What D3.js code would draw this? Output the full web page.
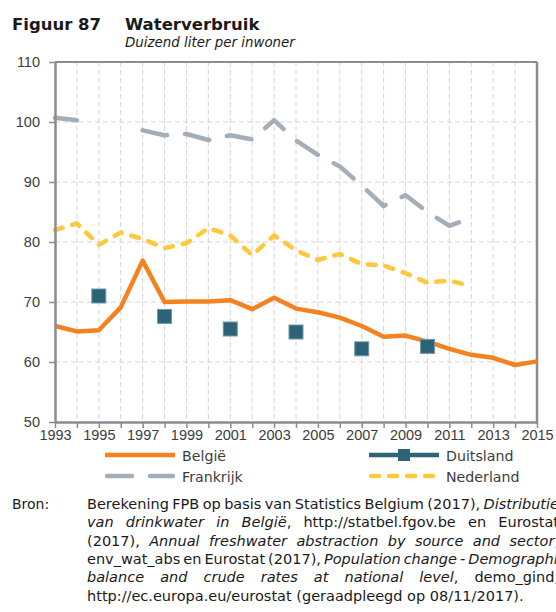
<!DOCTYPE html>
<html>
<head>
<meta charset="utf-8">
<script src="https://cdn.jsdelivr.net/npm/d3@7"></script>
<style>
  html, body { margin: 0; padding: 0; background: #fff; }
  svg { display: block; }
</style>
</head>
<body>
<svg id="chart" width="556" height="612"></svg>
<script>
// Water consumption, thousand litres per inhabitant
const years = d3.range(1993, 2016);
const belgie = [66.0, 65.1, 65.3, 69.1, 76.9, 70.0, 70.1, 70.1, 70.3, 68.8, 70.7, 68.9,
                68.3, 67.4, 66.0, 64.2, 64.4, 63.4, 62.2, 61.2, 60.7, 59.5, 60.1];
const duitsland = [null, null, 71.0, null, null, 67.6, null, null, 65.5, null, null, 65.0,
                   null, null, 62.2, null, null, 62.6, null, null, null, null, null];
const frankrijk = [100.7, 100.3, null, null, 98.6, 97.8, 98.0, 97.0, 97.8, 97.1, 100.3, 96.9,
                   94.5, 92.6, 89.4, 86.0, 87.8, 85.0, 82.7, 84.0, null, null, null];
const nederland = [82.0, 83.1, 79.5, 81.6, 80.5, 79.0, 79.8, 82.3, 81.1, 77.8, 81.1, 78.6,
                   77.0, 78.0, 76.3, 76.1, 74.8, 73.2, 73.6, 72.6, null, null, null];
const yTicks = [50, 60, 70, 80, 90, 100, 110];
const xLabelYears = d3.range(1993, 2016, 2);

const figureLabel = "Figuur 87";
const title = "Waterverbruik";
const subtitle = "Duizend liter per inwoner";
const legendNames = ["België", "Duitsland", "Frankrijk", "Nederland"];

// Source note: each line is a list of [text, italic] pieces
const sourceLabel = "Bron:";
const sourceLines = [
  [["Berekening FPB op basis van Statistics Belgium (2017), ", false], ["Distributie", true]],
  [["van drinkwater in België", true], [", http://statbel.fgov.be en Eurostat", false]],
  [["(2017), ", false], ["Annual freshwater abstraction by source and sector", true], [",", false]],
  [["env_wat_abs en Eurostat (2017), ", false], ["Population change - Demographic", true]],
  [["balance and crude rates at national level", true], [", demo_gind,", false]],
  [["http://ec.europa.eu/eurostat (geraadpleegd op 08/11/2017).", false]]
];

const C = {
  belgie: "#F58220",
  duitsland: "#2C6379",
  frankrijk: "#A4AEB9",
  nederland: "#FFC93C",
  axis: "#8C8C8C",
  grid: "#D5D5D5",
  text: "#3C3C3C"
};

const svg = d3.select("#chart");
const x = d3.scaleLinear().domain([1993, 2015]).range([55, 537]);
const y = d3.scaleLinear().domain([50, 110]).range([422, 62]);

const tickFont = "'Liberation Sans', Arial, sans-serif";
const mainFont = "'DejaVu Sans', Verdana, sans-serif";

// Titles
svg.append("text").attr("x", 12).attr("y", 30)
  .attr("font-family", mainFont).attr("font-weight", "bold").attr("font-size", 16.5)
  .attr("fill", "#1a1a1a").text(figureLabel);
svg.append("text").attr("x", 125).attr("y", 30)
  .attr("font-family", mainFont).attr("font-weight", "bold").attr("font-size", 16.5)
  .attr("fill", "#1a1a1a").text(title);
svg.append("text").attr("x", 125).attr("y", 47)
  .attr("font-family", mainFont).attr("font-style", "italic").attr("font-size", 13.4)
  .attr("fill", "#1a1a1a").text(subtitle);

// Grid
const grid = svg.append("g");
grid.selectAll("line.v").data(years.filter(d => d > 1993 && d < 2015)).join("line")
  .attr("x1", d => x(d)).attr("x2", d => x(d)).attr("y1", y(110)).attr("y2", y(50))
  .attr("stroke", C.grid).attr("stroke-width", 1).attr("stroke-dasharray", "5,3");
grid.selectAll("line.h").data(yTicks.filter(d => d > 50 && d < 110)).join("line")
  .attr("x1", x(1993)).attr("x2", x(2015)).attr("y1", d => y(d)).attr("y2", d => y(d))
  .attr("stroke", C.grid).attr("stroke-width", 1).attr("stroke-dasharray", "5,3");

// Frame: top and right borders
svg.append("line").attr("x1", x(1993)).attr("x2", x(2015)).attr("y1", y(110)).attr("y2", y(110))
  .attr("stroke", C.axis).attr("stroke-width", 2);
svg.append("line").attr("x1", x(2015)).attr("x2", x(2015)).attr("y1", y(110)).attr("y2", y(50))
  .attr("stroke", C.axis).attr("stroke-width", 2.5);

// Series lines
function seriesLine(vals) {
  return d3.line()
    .defined((d, i) => vals[i] != null)
    .x((d, i) => x(years[i]))
    .y((d, i) => y(vals[i]))(vals);
}

svg.append("path").attr("d", seriesLine(frankrijk))
  .attr("fill", "none").attr("stroke", C.frankrijk).attr("stroke-width", 4.5)
  .attr("stroke-linecap", "round").attr("stroke-linejoin", "round")
  .attr("stroke-dasharray", "25,18");

svg.append("path").attr("d", seriesLine(nederland))
  .attr("fill", "none").attr("stroke", C.nederland).attr("stroke-width", 4.5)
  .attr("stroke-linecap", "round").attr("stroke-linejoin", "round")
  .attr("stroke-dasharray", "8,10");

svg.append("path").attr("d", seriesLine(belgie))
  .attr("fill", "none").attr("stroke", C.belgie).attr("stroke-width", 4.5)
  .attr("stroke-linejoin", "round");

const dPts = years.map((yr, i) => ({ yr, v: duitsland[i] })).filter(d => d.v != null);
const sq = 14;
svg.selectAll("rect.de").data(dPts).join("rect")
  .attr("x", d => x(d.yr) - sq / 2).attr("y", d => y(d.v) - sq / 2)
  .attr("width", sq).attr("height", sq)
  .attr("fill", C.duitsland).attr("stroke", "#6F98AA").attr("stroke-width", 1);

// Axes
const yAxis = svg.append("g").attr("transform", `translate(${x(1993)},0)`)
  .call(d3.axisLeft(y).tickValues(yTicks).tickSizeInner(6).tickSizeOuter(0).tickPadding(9)
    .tickFormat(d3.format("d")));
const xAxis = svg.append("g").attr("transform", `translate(0,${y(50)})`)
  .call(d3.axisBottom(x).tickValues(years).tickSizeInner(6).tickSizeOuter(0).tickPadding(2)
    .tickFormat(d => xLabelYears.includes(d) ? String(d) : ""));
[yAxis, xAxis].forEach(g => {
  g.select(".domain").attr("stroke", C.axis).attr("stroke-width", 2.5);
  g.selectAll(".tick line").attr("stroke", C.axis).attr("stroke-width", 1.5);
  g.selectAll(".tick text").attr("font-family", tickFont).attr("font-size", 14.5)
    .attr("fill", C.text);
});

// Legend
const legend = [
  { name: legendNames[0], x0: 105, yy: 455, color: C.belgie, dash: null, cap: "butt" },
  { name: legendNames[1], x0: 369, yy: 455, color: C.duitsland, dash: null, cap: "butt", marker: true },
  { name: legendNames[2], x0: 105, yy: 476, color: C.frankrijk, dash: "25,18", cap: "round" },
  { name: legendNames[3], x0: 369, yy: 476, color: C.nederland, dash: "8,10", cap: "round" }
];
const lg = svg.append("g");
legend.forEach(d => {
  lg.append("line").attr("x1", d.x0 + (d.cap === "round" ? 2 : 0)).attr("x2", d.x0 + 70 - (d.cap === "round" ? 2 : 0))
    .attr("y1", d.yy).attr("y2", d.yy)
    .attr("stroke", d.color).attr("stroke-width", 4.5)
    .attr("stroke-linecap", d.cap)
    .attr("stroke-dasharray", d.dash);
  if (d.marker) {
    lg.append("rect").attr("x", d.x0 + 35 - 6).attr("y", d.yy - 6).attr("width", 12).attr("height", 12)
      .attr("fill", d.color);
  }
  lg.append("text").attr("x", d.x0 + 77).attr("y", d.yy + 5.5)
    .attr("font-family", mainFont).attr("font-size", 14.2).attr("fill", C.text).text(d.name);
});

// Source note, justified between left and right edges
const srcFont = 14.5;
const srcLeft = 87, srcRight = 559, srcTop = 509, srcStep = 18.3;
svg.append("text").attr("x", 12).attr("y", srcTop)
  .attr("font-family", mainFont).attr("font-size", 14).attr("fill", "#1a1a1a").text(sourceLabel);

const measure = svg.append("text").attr("font-family", mainFont).attr("font-size", srcFont)
  .attr("visibility", "hidden");
function textWidth(t, it) {
  measure.attr("font-style", it ? "italic" : "normal").text(t);
  return measure.node().getComputedTextLength();
}

sourceLines.forEach((pieces, li) => {
  // split pieces into words made of styled fragments
  const words = [];
  let cur = null;
  pieces.forEach(([t, it]) => {
    const parts = t.split(" ");
    parts.forEach((p, pi) => {
      if (pi > 0) { if (cur && cur.length) words.push(cur); cur = []; }
      if (cur === null) cur = [];
      if (p.length) cur.push({ t: p, it });
    });
  });
  if (cur && cur.length) words.push(cur);
  words.forEach(w => w.forEach(f => f.w = textWidth(f.t, f.it)));
  const wordW = words.map(w => d3.sum(w, f => f.w));
  const last = li === sourceLines.length - 1;
  const gap = last ? textWidth("a b", false) - textWidth("ab", false)
    : Math.max(3, (srcRight - srcLeft - d3.sum(wordW)) / (words.length - 1));
  let cx = srcLeft;
  const yy = srcTop + li * srcStep;
  words.forEach((w, wi) => {
    w.forEach(f => {
      svg.append("text").attr("x", cx).attr("y", yy)
        .attr("font-family", mainFont).attr("font-size", srcFont)
        .attr("font-style", f.it ? "italic" : "normal")
        .attr("fill", "#1a1a1a").text(f.t);
      cx += f.w;
    });
    cx += gap;
  });
});
measure.remove();
</script>
</body>
</html>
